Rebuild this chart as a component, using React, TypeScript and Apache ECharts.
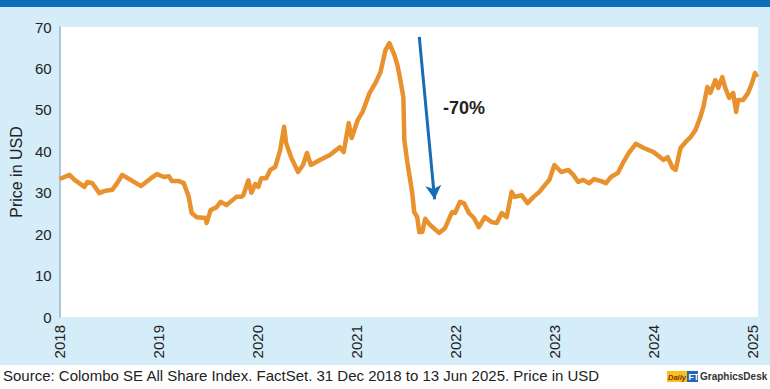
import React, { useEffect, useRef } from "react";
import * as echarts from "echarts";

// Decimal-year positions and USD prices
const years: number[] = [
  2018.0, 2018.1, 2018.151, 2018.251, 2018.281, 2018.331, 2018.402, 2018.452, 2018.532, 2018.582,
  2018.633, 2018.703, 2018.823, 2018.924, 2018.984, 2019.054, 2019.104, 2019.135, 2019.205, 2019.255,
  2019.305, 2019.335, 2019.386, 2019.476, 2019.486, 2019.526, 2019.586, 2019.627, 2019.687, 2019.787,
  2019.837, 2019.857, 2019.908, 2019.938, 2019.978, 2020.008, 2020.038, 2020.088, 2020.129, 2020.179,
  2020.229, 2020.269, 2020.289, 2020.339, 2020.41, 2020.46, 2020.5, 2020.54, 2020.631, 2020.731,
  2020.831, 2020.871, 2020.922, 2020.952, 2021.012, 2021.062, 2021.133, 2021.193, 2021.243, 2021.293,
  2021.333, 2021.384, 2021.414, 2021.444, 2021.474, 2021.484, 2021.514, 2021.564, 2021.584, 2021.614,
  2021.635, 2021.665, 2021.695, 2021.745, 2021.835, 2021.896, 2021.966, 2021.996, 2022.046, 2022.086,
  2022.137, 2022.187, 2022.237, 2022.297, 2022.367, 2022.418, 2022.468, 2022.518, 2022.568, 2022.598,
  2022.669, 2022.729, 2022.789, 2022.849, 2022.92, 2022.95, 2023.0, 2023.07, 2023.141, 2023.191,
  2023.241, 2023.291, 2023.351, 2023.402, 2023.472, 2023.522, 2023.572, 2023.643, 2023.693, 2023.753,
  2023.823, 2023.904, 2024.004, 2024.104, 2024.145, 2024.195, 2024.225, 2024.275, 2024.325, 2024.376,
  2024.426, 2024.476, 2024.506, 2024.546, 2024.576, 2024.627, 2024.657, 2024.697, 2024.727, 2024.767,
  2024.807, 2024.837, 2024.857, 2024.908, 2024.958, 2024.998, 2025.028, 2025.048,
];
const prices: number[] = [
  33.3, 34.3, 33.1, 31.4, 32.6, 32.3, 29.9, 30.4, 30.7, 32.3,
  34.3, 33.3, 31.6, 33.5, 34.5, 33.8, 34.0, 32.8, 32.8, 32.3,
  29.0, 25.1, 24.1, 23.9, 22.7, 25.8, 26.5, 27.8, 27.0, 29.0,
  29.0, 29.4, 33.0, 30.0, 32.1, 31.4, 33.5, 33.5, 35.5, 36.2,
  40.3, 45.9, 42.0, 38.6, 35.0, 36.7, 39.6, 36.7, 37.9, 39.1,
  41.0, 39.8, 46.8, 43.2, 47.5, 49.5, 54.1, 56.5, 59.1, 64.4,
  66.1, 63.2, 60.8, 57.2, 53.1, 42.7, 37.4, 29.9, 25.3, 24.1,
  20.5, 20.5, 23.7, 22.2, 20.3, 21.5, 25.3, 25.1, 27.8, 27.5,
  25.1, 23.9, 21.7, 24.1, 22.9, 22.7, 25.1, 24.1, 30.2, 29.0,
  29.4, 27.5, 29.0, 30.2, 32.3, 33.1, 36.7, 35.0, 35.5, 34.3,
  32.6, 33.1, 32.3, 33.3, 32.8, 32.3, 33.8, 34.8, 37.2, 39.6,
  41.8, 40.8, 39.8, 37.9, 38.6, 36.0, 35.5, 40.8, 42.2, 43.4,
  45.1, 48.3, 50.7, 55.5, 54.1, 57.2, 55.3, 57.9, 55.3, 52.9,
  54.1, 49.5, 52.4, 52.4, 54.1, 56.5, 58.9, 57.9,
];
const yearTicks: number[] = [2018, 2019, 2020, 2021, 2022, 2023, 2024, 2025];
const arrowStart: number[] = [2021.635, 67.6];
const arrowEnd: number[] = [2021.79, 28.4];
const dropLabel = "-70%";
const sourceText =
  "Source: Colombo SE All Share Index. FactSet. 31 Dec 2018 to 13 Jun 2025. Price in USD";

const FONT = "'Liberation Sans', Arial, Helvetica, sans-serif";

export default function App() {
  const ref = useRef<HTMLDivElement>(null);

  useEffect(() => {
    if (!ref.current) return;
    const chart = echarts.init(ref.current, null, { renderer: "svg" });
    const data = years.map((y, i) => [y, prices[i]]);
    chart.setOption({
      animation: false,
      backgroundColor: "transparent",
      grid: {
        left: 55,
        right: 12,
        top: 27,
        bottom: 72,
        show: true,
        backgroundColor: "#ffffff",
        borderWidth: 0,
      },
      xAxis: {
        type: "value",
        min: 2018,
        max: 2025.058,
        interval: 1,
        axisLine: { show: false },
        axisTick: { show: false },
        splitLine: { show: false },
        axisLabel: {
          rotate: 90,
          margin: 8,
          fontSize: 15,
          color: "#222",
          fontFamily: FONT,
          formatter: (v: number) =>
            yearTicks.indexOf(Math.round(v)) >= 0 && Math.abs(v - Math.round(v)) < 1e-6
              ? String(Math.round(v))
              : "",
        },
      },
      yAxis: {
        type: "value",
        min: 0,
        max: 70,
        interval: 10,
        name: "Price in USD",
        nameLocation: "middle",
        nameRotate: 90,
        nameGap: 31,
        nameTextStyle: { fontSize: 16, color: "#222", fontFamily: FONT },
        axisLine: { show: true, lineStyle: { color: "#a9c7db", width: 2 } },
        axisTick: { show: false },
        splitLine: { show: false },
        axisLabel: { fontSize: 15, color: "#222", margin: 8, fontFamily: FONT },
      },
      series: [
        {
          type: "line",
          data,
          showSymbol: false,
          symbol: "none",
          lineStyle: { color: "#e8912d", width: 4.5, join: "round" },
          z: 3,
          markLine: {
            silent: true,
            symbol: ["none", "arrow"],
            symbolSize: [12, 14],
            label: { show: false },
            lineStyle: { color: "#176db6", width: 3, type: "solid" },
            data: [[{ coord: arrowStart }, { coord: arrowEnd }]],
          },
        },
      ],
      graphic: [
        {
          type: "text",
          left: 443,
          top: 99,
          style: {
            text: dropLabel,
            fontSize: 18,
            fontWeight: "bold",
            fill: "#222",
            fontFamily: FONT,
          },
        },
        {
          type: "text",
          left: 3,
          top: 368,
          style: { text: sourceText, fontSize: 15, fill: "#222", fontFamily: FONT },
        },
        {
          type: "group",
          left: 667,
          top: 371,
          children: [
            { type: "rect", shape: { x: 0, y: 0, width: 20, height: 11 }, style: { fill: "#f4c21b" } },
            {
              type: "text",
              x: 1,
              y: 2,
              style: {
                text: "Daily",
                fontSize: 7.5,
                fontStyle: "italic",
                fontWeight: "bold",
                fill: "#8a2b12",
                fontFamily: FONT,
              },
            },
            { type: "rect", shape: { x: 20, y: 0, width: 11, height: 11 }, style: { fill: "#2368b3" } },
            {
              type: "text",
              x: 21.5,
              y: 1.5,
              style: { text: "FT", fontSize: 8.5, fontWeight: "bold", fill: "#fff", fontFamily: FONT },
            },
            {
              type: "text",
              x: 33,
              y: 0.5,
              style: {
                text: "GraphicsDesk",
                fontSize: 10,
                fontWeight: "bold",
                fill: "#333",
                fontFamily: FONT,
              },
            },
          ],
        },
      ],
    });
    return () => chart.dispose();
  }, []);

  return (
    <div
      ref={ref}
      style={{
        position: "fixed",
        left: 0,
        top: 0,
        width: 770,
        height: 389,
        background:
          "linear-gradient(to bottom, #0a6eb8 0px, #0a6eb8 7px, #d5ecf9 7px, #d5ecf9 365px, #ffffff 365px)",
      }}
    />
  );
}
